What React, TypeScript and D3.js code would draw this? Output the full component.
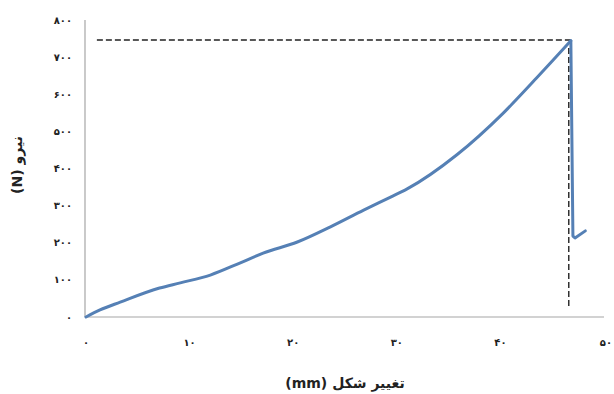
import React from "react";
import * as d3 from "d3";

const deformation = [0, 1.35, 3.3, 7.1, 9.1, 12.0, 14.9, 17.1, 20.4, 23.6, 26.8, 29.4, 31.0, 35.8, 40.3, 43.6, 46.8];
const force = [0, 19, 40, 78, 92, 113, 146, 172, 202, 243, 288, 323, 345, 437, 550, 647, 744];
const dropDeformation = [46.8, 47.0, 47.2, 48.2];
const dropForce = [744, 218, 213, 232];
const xTicks = [0, 10, 20, 30, 40, 50];
const yTicks = [0, 100, 200, 300, 400, 500, 600, 700, 800];
const peakForce = 746;
const peakDeformation = 46.6;
const dashStartX = 1.05;
const dashEndY = 27;

const toPersian = (n: number) =>
  String(n).replace(/[0-9]/g, (d) => "۰۱۲۳۴۵۶۷۸۹"[+d]);

export default function App() {
  const W = 614, H = 394;
  const x = d3.scaleLinear().domain([0, 50]).range([86, 604]);
  const y = d3.scaleLinear().domain([0, 800]).range([317, 20]);
  const pts = deformation.map((d, i) => [d, force[i]] as [number, number]);
  const drop = dropDeformation.map((d, i) => [d, dropForce[i]] as [number, number]);
  const line = d3.line<[number, number]>().x((d) => x(d[0])).y((d) => y(d[1])).curve(d3.curveMonotoneX);
  const lineLin = d3.line<[number, number]>().x((d) => x(d[0])).y((d) => y(d[1]));
  const font = "'DejaVu Sans', sans-serif";
  return (
    <svg width={W} height={H} style={{ position: "absolute", left: 0, top: 0, background: "#fff" }}>
      <rect width={W} height={H} fill="#fff" />
      <line x1={x(0) - 1} x2={x(0) - 1} y1={y(800)} y2={y(0)} stroke="#a6a6a6" strokeWidth={1.2} />
      <line x1={x(0) - 1} x2={x(50)} y1={y(0)} y2={y(0)} stroke="#a6a6a6" strokeWidth={1.2} />
      {yTicks.map((t) => (
        <text key={t} x={72} y={y(t)} dy="0.35em" textAnchor="end" fontFamily={font} fontSize={10} fontWeight="bold" fill="#222">
          {toPersian(t)}
        </text>
      ))}
      {xTicks.map((t) => (
        <text key={t} x={t === 50 ? W - 2 : x(t)} y={346} textAnchor={t === 50 ? "end" : "middle"} fontFamily={font} fontSize={10} fontWeight="bold" fill="#222">
          {toPersian(t)}
        </text>
      ))}
      <line x1={x(dashStartX)} x2={x(peakDeformation) + 2} y1={y(peakForce)} y2={y(peakForce)} stroke="#222" strokeWidth={1.4} strokeDasharray="6,3" />
      <line x1={x(peakDeformation)} x2={x(peakDeformation)} y1={y(peakForce) + 8} y2={y(dashEndY)} stroke="#222" strokeWidth={1.4} strokeDasharray="6,3" />
      <path d={line(pts) || ""} fill="none" stroke="#5580b5" strokeWidth={3} strokeLinejoin="round" strokeLinecap="round" />
      <path d={lineLin(drop) || ""} fill="none" stroke="#5580b5" strokeWidth={3} strokeLinejoin="round" strokeLinecap="round" />
      <text x={345} y={388} textAnchor="middle" direction="rtl" fontFamily={font} fontSize={14} fontWeight="bold" fill="#222">
        تغییر شکل (mm)
      </text>
      <text transform="translate(22,165) rotate(-90)" textAnchor="middle" direction="rtl" fontFamily={font} fontSize={14} fontWeight="bold" fill="#222">
        نیرو (N)
      </text>
    </svg>
  );
}
